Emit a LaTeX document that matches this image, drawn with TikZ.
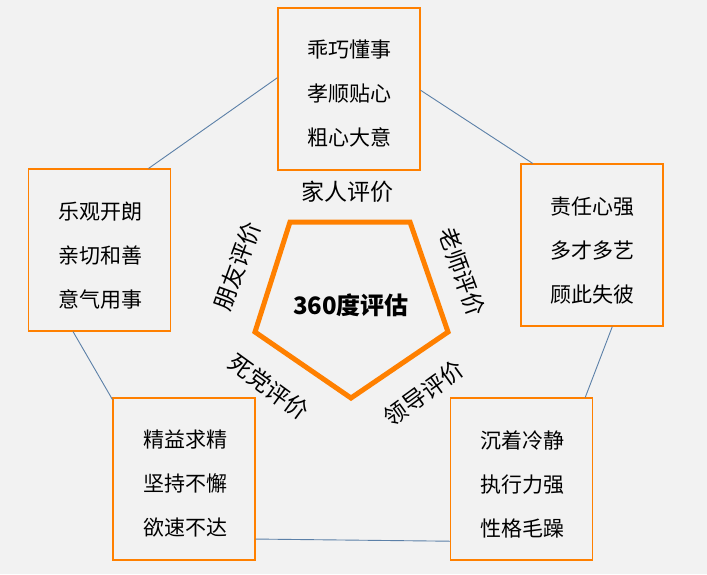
\documentclass[tikz,border=0pt]{standalone}
\usepackage{fontspec}
\newfontfamily\cjk{Noto Sans CJK SC}
\definecolor{bg}{HTML}{F2F2F2}
\definecolor{org}{HTML}{FF8000}
\definecolor{lnk}{HTML}{5B80A8}
\tikzset{
  box/.style={draw=org, line width=1.1pt, minimum width=142pt, minimum height=162pt, inner sep=0pt},
  txt/.style={font=\cjk\fontsize{21}{44}\selectfont, align=center, inner sep=0pt},
  lab/.style={font=\cjk\fontsize{23}{26}\selectfont, inner sep=0pt},
  link/.style={draw=lnk, line width=0.9pt},
  penta/.style={draw=org, line width=5pt, line join=miter}
}
\begin{document}
\begin{tikzpicture}[x=1pt,y=-1pt]
\useasboundingbox[fill=bg] (0,0) rectangle (707,574);
% boxes
\node[box] (T)  at (349,89)    {};
\node[box] (L)  at (99.5,250)  {};
\node[box] (R)  at (592,245)   {};
\node[box] (BL) at (184,479)   {};
\node[box] (BR) at (521.5,479) {};
% box texts
\node[txt] (tT)  at (349,94)    {乖巧懂事\\孝顺贴心\\粗心大意};
\node[txt] (tL)  at (100,256)   {乐观开朗\\亲切和善\\意气用事};
\node[txt] (tR)  at (592,251)   {责任心强\\多才多艺\\顾此失彼};
\node[txt] (tBL) at (185,484)   {精益求精\\坚持不懈\\欲速不达};
\node[txt] (tBR) at (522,484)   {沉着冷静\\执行力强\\性格毛躁};
% connectors
\draw[link] (L.59.6) -- (T.171);
\draw[link] (T.-1) -- (R.126);
\draw[link] (R.-76) -- (BR.52);
\draw[link] (BL.-40.7) -- (BR.221);
\draw[link] (L.-108) -- (BL.132);
% pentagon
\coordinate (p1) at (290,222);
\coordinate (p2) at (410,222);
\coordinate (p3) at (448,332);
\coordinate (p4) at (351,398);
\coordinate (p5) at (255,332);
\draw[penta] (p1) -- (p2) -- (p3) -- (p4) -- (p5) -- cycle;
\node[font=\cjk\fontsize{24}{28}\selectfont\bfseries, inner sep=0pt] (C) at (351,305) {360度评估};
% labels
\node[lab] (fam) at (347,192) {家人评价};
\node[lab, rotate=70] (fri) at (237,266) {朋友评价};
\node[lab, rotate=-70] (tea) at (462,272) {老师评价};
\node[lab, rotate=-36] (bud) at (269,387) {死党评价};
\node[lab, rotate=36] (lea) at (424,393) {领导评价};
\end{tikzpicture}
\end{document}
